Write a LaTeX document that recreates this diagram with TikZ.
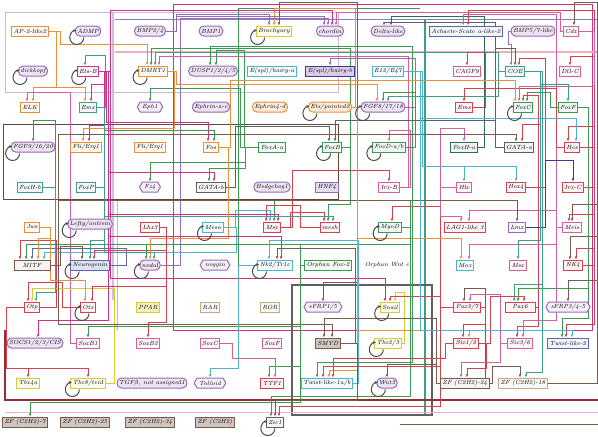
\documentclass[tikz,border=0pt]{standalone}
\usetikzlibrary{calc, shapes.symbols, arrows.meta, backgrounds}

\begin{document}
\begin{tikzpicture}[x=1pt, y=-1pt,
    gene/.style={font=\fontsize{6}{7}\selectfont\itshape, inner xsep=2pt, inner ysep=1pt, minimum height=10pt, line width=1pt},
    rbox/.style={gene, rectangle, draw=#1, fill=#1!7},
    pill/.style={gene, rounded corners=4.5pt, draw=#1, fill=#1!18},
    hexa/.style={gene, signal, signal to=west and east, signal pointer angle=120, draw=#1, fill=#1!10},
    zfbox/.style={gene, rectangle, draw=gBrown, fill=gBrown!35},
    lnk/.style={line width=0.9pt, -{Latex[length=3.2pt,width=2.8pt]}},
    selfloop/.style={line width=1pt, black!70, -{Latex[length=3.2pt,width=2.8pt]}},
    frame/.style={line width=0.9pt},
  ]
    % Define colours
    \definecolor{gOrange}{HTML}{E8903C}
    \definecolor{gPurple}{HTML}{9A6AB8}
    \definecolor{gTeal}{HTML}{3E9E8E}
    \definecolor{gGreen}{HTML}{3A9A50}
    \definecolor{gDkGreen}{HTML}{2E6E4E}
    \definecolor{gRed}{HTML}{D8404E}
    \definecolor{gPink}{HTML}{D8609A}
    \definecolor{gMagenta}{HTML}{D0308A}
    \definecolor{gCyan}{HTML}{4FB4D0}
    \definecolor{gBlue}{HTML}{5868B0}
    \definecolor{gIndigo}{HTML}{3A3A90}
    \definecolor{gYellow}{HTML}{D8CC30}
    \definecolor{gBrown}{HTML}{7A5A48}
    \definecolor{gGrey}{HTML}{606060}
    \definecolor{gTan}{HTML}{C8A880}

    \useasboundingbox (0,0) rectangle (598,437);

    % Draw nodes, row by row
    \node[rbox=gOrange] (ap2) at (30,31) {AP-2-like2};
    \node[pill=gPurple] (admp) at (88,31) {ADMP};
    \node[pill=gPurple] (bmp24) at (150,31) {BMP2/4};
    \node[pill=gPurple] (bmp1) at (211,31) {BMP1};
    \node[rbox=gYellow] (brachy) at (274,31) {Brachyury};
    \node[pill=gPurple] (chordin) at (330,31) {chordin};
    \node[pill=gPurple] (delta) at (388,31) {Delta-like};
    \node[rbox=gBlue] (ash) at (466,31) {Achaete-Scute a-like-2};
    \node[pill=gPurple] (bmp57) at (533,31) {BMP5/7-like};
    \node[rbox=gPink] (cdx) at (571,31) {Cdx};

    \node[pill=gPurple] (dkk) at (33,71) {dickkopf};
    \node[rbox=gMagenta] (etsb) at (88,71) {Ets-B};
    \node[rbox=gOrange] (dmrt) at (153,71) {DMRT1};
    \node[pill=gPurple] (dusp) at (213,71) {DUSP1/2/4/5};
    \node[rbox=gCyan] (espla) at (272,71) {E(spl)/hairy-a};
    \node[rbox=gIndigo, fill=gPurple!35] (esplb) at (330,71) {E(spl)/hairy-b};
    \node[rbox=gCyan] (e12) at (388,71) {E12/E47};
    \node[rbox=gPink] (cagf) at (467,71) {CAGF9};
    \node[rbox=gTeal] (coe) at (515,71) {COE};
    \node[rbox=gPink] (dllc) at (570,71) {Dll-C};

    \node[rbox=gOrange] (elk) at (30,107) {ELK};
    \node[rbox=gTeal] (emx) at (88,107) {Emx};
    \node[hexa=gPurple] (eph1) at (150,107) {Eph1};
    \node[pill=gPurple] (ephac) at (211,107) {Ephrin-a-c};
    \node[pill=gOrange] (ephd) at (270,107) {Ephrin4-d};
    \node[pill=gOrange] (ets2) at (330,107) {Ets/pointed2};
    \node[pill=gPurple] (fgf8) at (383,107) {FGF8/17/18};
    \node[rbox=gRed] (ems) at (464,107) {Ems};
    \node[rbox=gGreen] (foxc) at (523,107) {FoxC};
    \node[rbox=gGreen] (foxf) at (568,107) {FoxF};

    \node[pill=gPurple] (fgf9) at (33,147) {FGF9/16/20};
    \node[rbox=gOrange] (fli1) at (86,147) {Fli/Erg1};
    \node[rbox=gOrange] (fli2) at (150,147) {Fli/Erg1};
    \node[rbox=gOrange] (fos) at (211,147) {Fos};
    \node[rbox=gGreen] (foxaa) at (272,147) {FoxA-a};
    \node[rbox=gGreen] (foxb) at (332,147) {FoxB};
    \node[rbox=gGreen] (foxd) at (389,147) {FoxD-a/b};
    \node[rbox=gDkGreen] (foxha) at (464,147) {FoxH-a};
    \node[rbox=gGrey] (gataa) at (519,147) {GATA-a};
    \node[rbox=gRed] (hes) at (572,147) {Hes};

    \node[rbox=gTeal] (foxhb) at (30,187) {FoxH-b};
    \node[rbox=gTeal] (foxp) at (86,187) {FoxP};
    \node[hexa=gPurple] (fz4) at (150,187) {Fz4};
    \node[rbox=gGrey] (gatab) at (211,187) {GATA-b};
    \node[pill=gPurple] (hh) at (272,187) {Hedgehog1};
    \node[rbox=gPurple, fill=gPurple!25] (hnf4) at (327,187) {HNF4};
    \node[rbox=gPink] (irxb) at (389,187) {Irx-B};
    \node[rbox=gPink] (hlx) at (464,187) {Hlx};
    \node[rbox=gRed] (hox4) at (516,187) {Hox4};
    \node[rbox=gRed] (irxc) at (573,187) {Irx-C};

    \node[rbox=gOrange] (jun) at (32,227) {Jun};
    \node[pill=gPurple] (lefty) at (90,224) {Lefty/antivin};
    \node[rbox=gRed] (lhx3) at (150,227) {Lhx3};
    \node[rbox=gCyan] (meso) at (213,227) {Meso};
    \node[rbox=gRed] (msx) at (272,227) {Msx};
    \node[rbox=gRed] (msxb) at (330,227) {mesh};
    \node[rbox=gGreen] (myod) at (390,227) {MyoD};
    \node[rbox=gRed] (lag) at (465,227) {LAG1-like 3};
    \node[rbox=gPurple] (lmx) at (517,227) {Lmx};
    \node[rbox=gPink] (meis) at (572,227) {Meis};

    \node[rbox=gBrown, minimum width=36pt] (mitf) at (32,265) {MITF};
    \node[rbox=gBlue, fill=gBlue!20] (ngn) at (90,265) {Neurogenin};
    \node[pill=gPurple] (nodal) at (150,265) {nodal};
    \node[hexa=gPurple] (noggin) at (215,265) {noggin};
    \node[rbox=gCyan] (nk2) at (275,265) {Nk2/Tr1c};
    \node[rbox=gGreen] (ofox) at (328,265) {Orphan Fox-2};
    \node[gene] (ownt) at (387,265) {Orphan Wnt e};
    \node[rbox=gCyan] (moxa) at (465,265) {Mox};
    \node[rbox=gPink] (moxb) at (518,265) {Msx};
    \node[rbox=gRed] (nk4) at (573,265) {NK4};

    \node[rbox=gRed] (otp) at (32,307) {Otp};
    \node[rbox=gRed] (otx) at (88,307) {Otx};
    \node[rbox=gYellow, fill=gYellow!30] (ppar) at (148,307) {PPAR};
    \node[rbox=gTan] (rar) at (210,307) {RAR};
    \node[rbox=gTan] (ror) at (270,307) {ROR};
    \node[hexa=gPurple] (sfrp15) at (323,307) {sFRP1/5};
    \node[rbox=gYellow] (snail) at (390,307) {Snail};
    \node[rbox=gRed] (pax37) at (467,307) {Pax3/7};
    \node[rbox=gRed, minimum width=30pt] (pax6) at (520,307) {Pax6};
    \node[hexa=gPurple] (sfrp345) at (568,307) {sFRP3/4-5};

    \node[pill=gPurple] (socs) at (35,343) {SOCS1/2/3/CIS};
    \node[rbox=gPink] (soxb1) at (88,343) {SoxB1};
    \node[rbox=gPink] (soxb2) at (148,343) {SoxB2};
    \node[rbox=gPink] (soxc) at (210,343) {SoxC};
    \node[rbox=gPink] (soxf) at (272,343) {SoxF};
    \node[rbox=gBrown, fill=gBrown!35] (smyd) at (328,343) {SMYD};
    \node[rbox=gYellow] (tbx23) at (388,343) {Tbx2/3};
    \node[rbox=gRed] (six12) at (466,343) {Six1/2};
    \node[rbox=gPink] (six36) at (520,343) {Six3/6};
    \node[rbox=gBlue] (twist2) at (568,343) {Twist-like-2};

    \node[rbox=gYellow] (tbx4a) at (28,383) {Tbx4a};
    \node[rbox=gYellow] (tbx8) at (88,383) {Tbx8/tcid};
    \node[pill=gPurple] (tgfb) at (152,383) {TGF$\beta$, not assigned1};
    \node[hexa=gPurple] (tolloid) at (210,383) {Tolloid};
    \node[rbox=gRed] (ttf1) at (272,383) {TTF1};
    \node[rbox=gCyan] (twist1) at (327,383) {Twist-like-1a/b};
    \node[pill=gPurple] (wnt) at (387,383) {Wnt3};
    \node[rbox=gBrown] (zf24) at (465,383) {ZF (C2H2)-24};
    \node[rbox=gTan] (zf18) at (523,383) {ZF (C2H2)-18};

    \node[zfbox] (zf7) at (25,422) {ZF (C2H2)-7};
    \node[zfbox] (zf25) at (85,422) {ZF (C2H2)-25};
    \node[zfbox] (zf34) at (150,422) {ZF (C2H2)-34};
    \node[zfbox] (zfx) at (215,422) {ZF (C2H2)};
    \node[rbox=gGrey] (zic) at (275,422) {Zic1};

    % Draw self loops
    \foreach \n in {admp, dkk, etsb, dmrt, brachy, ets2, fgf8, foxc, fgf9, foxb, foxd, lefty, meso, myod, ngn, nodal, nk2, otx, snail, tbx23, tbx8, wnt, zic}
        \draw[selfloop] ($(\n.south west)+(2,1)$) ++(7pt,0) arc[start angle=0, end angle=-270, radius=7pt];

    \begin{pgfonlayer}{background}
    \fill[white] (0,0) rectangle (598,437);

    % Draw region frames
    \draw[frame, gPurple!50] (5,12) rectangle (338,92);
    \draw[frame, gPurple!45, line width=2.4pt] (113,13) -- (113,300);
    \draw[frame, gMagenta] (173,4) rectangle (592,330);
    \draw[frame, gBrown!80!black] (3,124) rectangle (338,199);
    \draw[frame, gRed!40, line width=2.2pt] (115,52) -- (598,52);
    \draw[frame, gBlue!80] (115,19) -- (598,19);
    \draw[frame, gGreen] (420,8) -- (238,8) -- (238,280);
    \draw[frame, gYellow] (340,200) -- (117,200) -- (117,330);
    \draw[frame, gTeal, line width=2pt] (425,20) -- (425,415);
    \draw[frame, gGrey, line width=2pt] (292,285) rectangle (432,415);
    \draw[frame, gRed!70!black, line width=1.2pt] (5,330) -- (5,400) -- (598,400);
    \draw[frame, gPink!50] (5,412) -- (598,412);
    \draw[frame, gBrown] (400,424) -- (598,424);

    % Draw connectors: colour/source/target/channel x/bus y/shift
    \foreach \c/\s/\t/\x/\y/\d in {
        gBrown/smyd.east/brachy/357/2/5, gPurple/bmp24.east/brachy/176/14/-5,
        gOrange/ets2.east/brachy/355/8/0, gPurple/bmp24.east/chordin/176/16/-6,
        gMagenta/etsb.east/chordin/110/10/2, gPurple/nodal.east/chordin/180/18/-2,
        gPink/cdx.west/chordin/560/12/6, gGrey/gataa.west/delta/495/22/-4,
        gDkGreen/foxha.east/delta/484/16/3, gRed/hes.east/ash/594/10/2,
        gPink/meis.west/ash/556/14/-3, gBrown/zf18.east/cdx/597/2/3,
        gOrange/ap2.east/dmrt/60/44/-6, gGreen/foxb.east/dmrt/350/48/-2,
        gTeal/coe.west/dmrt/498/52/2, gPink/irxb.east/dmrt/408/56/6,
        gTeal/emx.east/etsb/105/55/-3, gGreen/foxd.east/dusp/412/46/-3,
        gGreen/foxaa.west/dusp/244/50/3, gPurple/fgf8.east/esplb/415/58/0,
        gRed/ems.east/cagf/485/52/0, gPurple/bmp57.west/coe/508/44/-4,
        gRed/hox4.east/coe/545/58/4, gGrey/gataa.west/coe/495/48/0,
        gRed/nk4.east/dllc/594/56/0,
        gOrange/ap2.east/elk/56/87/3, gOrange/ap2.east/emx/56/87/-3,
        gPink/soxb1.west/elk/70/92/-3, gMagenta/etsb.east/emx/104/84/3,
        gGreen/foxaa.west/eph1/240/88/0, gOrange/dmrt.east/fgf8/176/84/-6,
        gGreen/foxd.east/fgf8/415/92/0, gTeal/coe.west/fgf8/498/96/5,
        gRed/hes.west/ems/556/88/0, gGreen/foxf.west/foxc/550/92/4,
        gPink/cdx.east/foxc/594/86/-4, gRed/pax6.east/foxc/538/95/0,
        gOrange/fos.east/foxc/230/80/-8, gTeal/coe.east/foxf/540/84/0,
        gGreen/foxhb.east/fgf9/55/120/0, gMagenta/etsb.east/fli1/104/125/3,
        gOrange/dmrt.east/fli1/174/128/-3, gMagenta/etsb.east/fos/106/122/-3,
        gGreen/foxp.east/fos/104/130/3, gGrey/gatab.east/foxb/235/126/-3,
        gGrey/gataa.west/foxb/495/120/3, gPink/irxb.east/foxd/410/130/0,
        gPink/hlx.west/foxha/440/128/0, gRed/hox4.east/gataa/540/124/3,
        gBrown/mitf.east/gataa/58/134/-3, gRed/irxc.east/hes/594/126/-4,
        gCyan/e12.east/hes/420/118/4,
        gGreen/foxaa.west/fz4/245/162/0, gGreen/foxaa.west/gatab/245/168/-2,
        gMagenta/etsb.east/gatab/108/172/3, gCyan/e12.east/hlx/422/166/0,
        gCyan/e12.east/hox4/422/166/0, gIndigo/lmx.east/irxc/545/160/0,
        gRed/msx.east/irxb/292/170/0,
        gRed/msxb.west/msx/300/205/-6, gCyan/meso.east/msx/235/210/-2,
        gGreen/myod.east/msx/410/200/2, gMagenta/etsb.east/msx/108/214/6,
        gRed/msx.east/msxb/290/212/-6, gGreen/foxb.east/msxb/350/204/-2,
        gTeal/foxp.east/msxb/104/216/3, gRed/pax37.west/myod/440/206/2,
        gPink/hlx.west/lag/440/216/-4, gPink/meis.west/lag/556/210/4,
        gBrown/mitf.east/lmx/58/200/0, gBrown/zf18.east/meis/597/204/0,
        gRed/hes.east/meis/594/214/-3,
        gRed/otp.east/mitf/56/240/-12, gGreen/myod.east/mitf/410/244/-6,
        gBlue/ngn.east/mitf/126/248/0, gOrange/jun.east/mitf/50/238/6,
        gCyan/meso.east/mitf/236/252/12, gBrown/mitf.east/ngn/60/246/-8,
        gTeal/emx.east/ngn/104/240/0, gRed/lhx3.east/ngn/166/250/4,
        gGreen/ofox.west/nodal/300/244/-4, gOrange/fos.east/nodal/228/238/0,
        gTeal/foxp.east/nodal/104/252/4, gCyan/twist1.east/nk2/358/240/-6,
        gMagenta/etsb.east/nk2/108/236/6, gBrown/smyd.east/nk2/355/248/2,
        gOrange/ets2.east/moxa/357/238/-4, gPink/meis.west/moxa/556/244/4,
        gTeal/coe.east/moxb/540/240/0, gBrown/zf18.east/nk4/597/236/-3,
        gRed/hes.east/nk4/594/248/3,
        gRed/otx.west/otp/62/282/-4, gYellow/tbx8.east/otp/114/288/0,
        gTeal/foxhb.east/otp/55/292/4, gOrange/jun.east/otx/50/280/-3,
        gRed/lhx3.east/otx/166/286/4, gBrown/smyd.east/sfrp15/357/282/0,
        gYellow/tbx23.east/snail/404/292/5, gRed/pax37.west/snail/440/296/0,
        gMagenta/etsb.east/snail/110/278/-5, gBrown/zf24.east/pax37/485/288/-3,
        gPink/six36.west/pax37/500/294/3, gTeal/coe.east/pax6/542/284/-6,
        gGreen/foxf.east/pax6/588/288/-2, gRed/six12.east/pax6/490/296/4,
        gBrown/zf18.east/sfrp345/597/280/0,
        gMagenta/etsb.east/socs/108/320/3, gGreen/ofox.west/soxb1/300/326/0,
        gRed/lhx3.east/soxb2/166/322/0, gBrown/zf24.west/smyd/436/318/-4,
        gBrown/mitf.east/smyd/58/324/4, gRed/pax37.east/six12/485/324/-3,
        gOrange/ets2.east/six12/357/330/3, gRed/pax6.east/six36/538/326/-3,
        gPink/meis.west/six36/556/320/3, gGreen/foxf.east/twist2/588/318/-6,
        gRed/nk4.east/twist2/594/324/-2, gCyan/e12.east/twist2/420/330/4,
        gRed/otp.west/tbx4a/6/368/0, gRed/otp.west/tbx8/6/368/0,
        gCyan/nk2.west/tolloid/238/368/0, gGreen/ofox.west/ttf1/300/366/-3,
        gPink/soxc.east/ttf1/232/358/3, gGreen/foxd.east/twist1/412/362/-10,
        gRed/pax37.west/twist1/440/366/-4, gOrange/ets2.east/twist1/357/370/2,
        gRed/six12.west/twist1/445/358/6, gBrown/zf24.west/wnt/436/364/0,
        gPink/six36.west/zf24/500/362/-4, gRed/six12.east/zf24/486/368/2,
        gBrown/zf24.east/zf18/492/366/-3, gTeal/coe.east/zf18/542/372/3,
        gGreen/ofox.west/zf7/300/402/5, gGreen/myod.east/zic/410/396/-4,
        gBrown/smyd.east/zic/357/400/0, gRed/pax37.west/zic/440/406/4}
        \draw[lnk, draw=\c] (\s) -| (\x,\y) -| ([xshift=\d pt]\t.north);
    \end{pgfonlayer}

\end{tikzpicture}
\end{document}
